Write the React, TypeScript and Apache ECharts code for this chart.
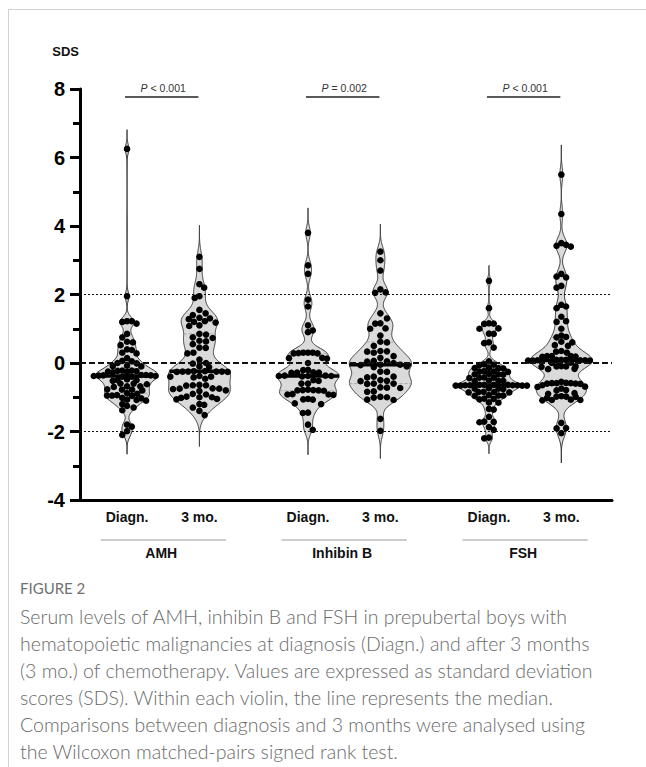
import React, { useEffect, useRef } from "react";
import * as echarts from "echarts";

// ---------------- data ----------------
const groups = ["AMH", "Inhibin B", "FSH"];
const timepoints = ["Diagn.", "3 mo."];
const pValues = ["< 0.001", "= 0.002", "< 0.001"];
const referenceLines = [2, 0, -2];
const yMin = -4;
const yMax = 8;
const yInterval = 2;

const amhDiagnosis = [
  6.25, 1.95, 1.22, 1.2, 1.22, 1.15, 0.85, 0.75, 0.62, 0.6, 0.52, 0.4, 0.38, 0.3, 0.28, 0.14,
  0.06, 0.05, 0.0, -0.01, -0.08, -0.1, -0.09, -0.22, -0.25, -0.26, -0.24, -0.27, -0.22, -0.23,
  -0.35, -0.36, -0.37, -0.38, -0.4, -0.35, -0.38, -0.4, -0.36, -0.5, -0.5, -0.52, -0.48,
  -0.6, -0.62, -0.6, -0.68, -0.7, -0.68, -0.78, -0.78, -0.8, -0.77, -0.88, -0.9,
  -0.95, -0.96, -0.94, -0.95, -1.03, -1.02, -1.08, -1.07, -1.1,
  -1.2, -1.25, -1.3, -1.38, -1.8, -1.86, -1.99, -2.1,
];
const amhThreeMonths = [
  3.1, 2.75, 2.3, 2.2, 1.95, 1.9, 1.55, 1.45, 1.4, 1.3, 1.32, 1.28, 1.2, 1.22, 1.18, 1.1, 1.08,
  0.85, 0.83, 0.75, 0.73, 0.65, 0.63, 0.55, 0.45, 0.44, 0.3, 0.28, 0.1, 0.0, -0.02, -0.1, -0.12,
  -0.24, -0.25, -0.25, -0.26, -0.24, -0.25, -0.26, -0.25,
  -0.4, -0.4, -0.42, -0.38, -0.46, -0.65, -0.64, -0.66, -0.65, -0.75, -0.74, -0.76, -0.75,
  -0.8, -0.82, -0.9, -0.92, -1.0, -1.0, -1.02, -0.98, -1.05, -1.06, -1.2, -1.22, -1.3, -1.4, -1.52,
];
const inhibinDiagnosis = [
  3.8, 2.85, 2.6, 1.85, 1.65, 1.1, 0.95, 0.9, 0.3, 0.3, 0.28, 0.3, 0.29, 0.28,
  0.15, 0.14, 0.13, 0.0, -0.2, -0.21, -0.28, -0.27, -0.28, -0.29,
  -0.38, -0.37, -0.38, -0.39, -0.38, -0.37, -0.5, -0.52, -0.6, -0.6,
  -0.79, -0.8, -0.78, -0.8, -0.79, -0.81, -0.92, -0.92, -0.93, -0.91,
  -1.06, -1.05, -1.07, -1.18, -1.2, -1.45, -1.46, -1.8, -1.95,
];
const inhibinThreeMonths = [
  3.25, 3.0, 2.7, 2.15, 2.05, 2.06, 1.45, 1.3, 1.15, 1.16, 1.0, 1.01, 0.8, 0.62, 0.6, 0.5,
  0.35, 0.34, 0.33, 0.3, 0.2, 0.15, 0.05, 0.04, 0.06, 0.0,
  -0.05, -0.06, -0.05, -0.12, -0.1, -0.25, -0.26, -0.4, -0.42, -0.4, -0.52, -0.53, -0.5,
  -0.6, -0.61, -0.6, -0.72, -0.71, -0.73, -0.83, -0.84, -1.0, -1.01, -0.99, -1.07, -1.08,
  -1.63, -1.98,
];
const fshDiagnosis = [
  2.4, 1.6, 1.15, 1.16, 1.14, 1.0, 1.01, 0.86, 0.85, 0.6, 0.58, 0.45, 0.05, -0.05, -0.04, -0.06,
  -0.15, -0.14, -0.15, -0.16, -0.25, -0.24, -0.26, -0.25, -0.33, -0.34, -0.32, -0.33,
  -0.43, -0.44, -0.42, -0.43, -0.52, -0.53, -0.51, -0.52,
  -0.64, -0.65, -0.66, -0.65, -0.64, -0.66, -0.65, -0.64, -0.66, -0.65, -0.64, -0.66,
  -0.75, -0.76, -0.74, -0.75, -0.85, -0.86, -0.84, -0.85, -0.86, -0.95, -0.96, -0.94, -0.95,
  -1.04, -1.05, -1.06, -1.15, -1.16, -1.34, -1.36,
  -1.57, -1.72, -1.71, -1.73, -1.87, -1.95, -2.18, -2.2,
];
const fshThreeMonths = [
  5.5, 4.35, 3.5, 3.45, 3.4, 3.42, 2.6, 2.5, 2.52, 2.25, 2.2, 1.7, 1.65, 1.6, 1.35, 1.2, 1.22, 1.0,
  0.8, 0.76, 0.75, 0.6, 0.62, 0.5, 0.52, 0.35, 0.33, 0.3, 0.2, 0.19, 0.2, 0.18, 0.2,
  0.08, 0.07, 0.09, 0.08, 0.07, 0.09, 0.08, 0.07, 0.09, 0.0, 0.01,
  -0.1, -0.1, -0.11, -0.09, -0.1, -0.17, -0.18,
  -0.55, -0.59, -0.6, -0.58, -0.59, -0.6, -0.61, -0.59, -0.65, -0.69, -0.7, -0.75, -0.79, -0.8,
  -0.88, -0.9, -0.98, -0.97, -0.99, -0.98, -1.02, -1.08, -1.07, -1.09, -1.08,
  -1.75, -1.9, -1.91, -2.05,
];
const violins = [
  amhDiagnosis, amhThreeMonths,
  inhibinDiagnosis, inhibinThreeMonths,
  fshDiagnosis, fshThreeMonths,
];

const captionTitle = "FIGURE 2";
const captionLines = [
  "Serum levels of AMH, inhibin B and FSH in prepubertal boys with",
  "hematopoietic malignancies at diagnosis (Diagn.) and after 3 months",
  "(3 mo.) of chemotherapy. Values are expressed as standard deviation",
  "scores (SDS). Within each violin, the line represents the median.",
  "Comparisons between diagnosis and 3 months were analysed using",
  "the Wilcoxon matched-pairs signed rank test.",
];

// ---------------- layout ----------------
const GROUP_SPACING = 5;
const SLOT_OFFSETS = [1.3, 3.3];
const X_MAX = 14.7;
const VIOLIN_HALF = 0.86; // x units
const DOT_R = 3.3;
const slotPos = (i: number) => Math.floor(i / 2) * GROUP_SPACING + SLOT_OFFSETS[i % 2];

function describe(vals: number[]) {
  const s = [...vals].sort((a, b) => a - b);
  const n = s.length;
  const q = (p: number) => {
    const idx = (n - 1) * p;
    const lo = Math.floor(idx);
    const hi = Math.ceil(idx);
    return s[lo] + (s[hi] - s[lo]) * (idx - lo);
  };
  const mean = s.reduce((a, b) => a + b, 0) / n;
  const sd = Math.sqrt(s.reduce((a, b) => a + (b - mean) ** 2, 0) / (n - 1));
  const q1 = q(0.25);
  const q3 = q(0.75);
  const h = 0.55 * 0.9 * Math.min(sd, (q3 - q1) / 1.34) * Math.pow(n, -0.2);
  const dens = (y: number) => s.reduce((a, v) => a + Math.exp(-0.5 * ((y - v) / h) ** 2), 0);
  const lo = s[0] - 4 * h;
  const hi = s[n - 1] + 4 * h;
  const N = 320;
  const grid: number[] = [];
  const d: number[] = [];
  let maxD = 0;
  for (let k = 0; k <= N; k++) {
    const y = lo + ((hi - lo) * k) / N;
    const v = dens(y);
    grid.push(y);
    d.push(v);
    if (v > maxD) maxD = v;
  }
  return { s, n, median: q(0.5), q1, q3, grid, d, maxD, dens };
}
const stats = violins.map(describe);

// Lattice swarm: each dot takes the lattice column (0, ±1, ±2, ...) nearest the
// centre that is not already used by a dot less than one diameter above/below it;
// columns are squeezed where the violin is too narrow.
function latticeSwarm(ys: number[], r: number, halfWidthAt: (py: number) => number): number[] {
  const dd = 2 * r;
  const ks: number[] = new Array(ys.length).fill(0);
  const placed: number[] = [];
  const order = ys.map((_, i) => i).sort((a, b) => ys[a] - ys[b]);
  let toggle = 1;
  for (const i of order) {
    const y = ys[i];
    const near = placed.filter((j) => Math.abs(ys[j] - y) < dd * 0.92);
    const used = new Set(near.map((j) => ks[j]));
    let k = 0;
    if (used.has(0)) {
      const balance = near.reduce((a, j) => a + Math.sign(ks[j]), 0);
      const pref = balance > 0 ? -1 : balance < 0 ? 1 : toggle;
      for (let m = 1; m < 200; m++) {
        if (!used.has(pref * m)) { k = pref * m; break; }
        if (!used.has(-pref * m)) { k = -pref * m; break; }
      }
      toggle = -toggle;
    }
    ks[i] = k;
    placed.push(i);
  }
  return ys.map((y, i) => {
    let kmax = 1;
    ys.forEach((y2, j) => {
      if (Math.abs(y2 - y) < dd * 0.92) kmax = Math.max(kmax, Math.abs(ks[j]));
    });
    const w = halfWidthAt(y);
    const s = Math.max(dd * 0.72, Math.min(dd, (w - r * 0.6) / kmax));
    return ks[i] * s;
  });
}

const AXIS_FONT = '"Liberation Sans Narrow", "Liberation Sans", Arial, sans-serif';
const LABEL_FONT = '"Liberation Sans", Arial, sans-serif';

export default function App() {
  const ref = useRef<HTMLDivElement>(null);
  useEffect(() => {
    if (!ref.current) return;
    const chart = echarts.init(ref.current, undefined, { renderer: "svg" });

    const violinSeries = {
      type: "custom",
      z: 3,
      clip: false,
      silent: true,
      data: violins.map((_, i) => [slotPos(i), stats[i].median, i]),
      encode: { x: 0, y: 1 },
      renderItem: (params: any, api: any) => {
        const i = params.dataIndex;
        const st = stats[i];
        const cx = api.coord([slotPos(i), 0])[0];
        const half = api.size([VIOLIN_HALF, 0])[0];
        const left: number[][] = [];
        const right: number[][] = [];
        st.grid.forEach((y, k) => {
          const py = api.coord([0, y])[1];
          const w = (st.d[k] / st.maxD) * half;
          left.push([cx - w, py]);
          right.push([cx + w, py]);
        });
        const pts = left.concat(right.reverse());
        const widthAt = (v: number) => (st.dens(v) / st.maxD) * half;
        const hline = (v: number, style: any) => {
          const py = api.coord([0, v])[1];
          const w = widthAt(v);
          return { type: "line", shape: { x1: cx - w, y1: py, x2: cx + w, y2: py }, style };
        };
        return {
          type: "group",
          children: [
            {
              type: "polygon",
              shape: { points: pts },
              style: { fill: "#dadada", stroke: "#3a3a3a", lineWidth: 1 },
            },
            hline(st.q1, { stroke: "#a8a8a8", lineWidth: 1, lineDash: [3, 2] }),
            hline(st.q3, { stroke: "#a8a8a8", lineWidth: 1, lineDash: [3, 2] }),
          ],
        };
      },
    };

    const dotSeries = {
      type: "custom",
      z: 4,
      clip: false,
      silent: true,
      data: violins.map((_, i) => [slotPos(i), stats[i].median, i]),
      encode: { x: 0, y: 1 },
      renderItem: (params: any, api: any) => {
        const i = params.dataIndex;
        const vals = violins[i];
        const st = stats[i];
        const cx = api.coord([slotPos(i), 0])[0];
        const half = api.size([VIOLIN_HALF, 0])[0];
        const y0 = api.coord([0, 0])[1];
        const pxPerUnit = api.size([0, 1])[1];
        const halfWidthAt = (py: number) => (st.dens((y0 - py) / pxPerUnit) / st.maxD) * half;
        const ys = vals.map((v) => api.coord([0, v])[1]);
        const dxs = latticeSwarm(ys, DOT_R, halfWidthAt);
        const mw = (st.dens(st.median) / st.maxD) * half;
        const my = api.coord([0, st.median])[1];
        return {
          type: "group",
          children: [
            ...ys.map((py, k) => ({
              type: "circle",
              shape: { cx: cx + dxs[k], cy: py, r: DOT_R },
              style: { fill: "#000" },
            })),
            {
              type: "line",
              shape: { x1: cx - mw, y1: my, x2: cx + mw, y2: my },
              style: { stroke: "#000", lineWidth: 3.5 },
            },
          ],
        };
      },
    };

    const annotationSeries = {
      type: "custom",
      z: 5,
      clip: false,
      silent: true,
      data: groups.map((_, g) => [slotPos(g * 2), yMin, g]),
      encode: { x: 0, y: 1 },
      renderItem: (params: any, api: any) => {
        const g = params.dataIndex;
        const x0 = slotPos(g * 2);
        const x1 = slotPos(g * 2 + 1);
        const mid = (x0 + x1) / 2;
        const base = api.coord([mid, yMin]);
        const top = api.coord([mid, yMax]);
        const p0 = api.coord([x0, yMax])[0];
        const p1 = api.coord([x1, yMax])[0];
        const lineHalf = api.size([1.73, 0])[0];
        const children: any[] = [];
        timepoints.forEach((t, j) => {
          const px = api.coord([slotPos(g * 2 + j), yMin])[0];
          children.push({
            type: "text",
            style: {
              text: t, x: px, y: base[1] + 17, align: "center", verticalAlign: "middle",
              font: `bold 14px ${LABEL_FONT}`, fill: "#111",
            },
          });
        });
        children.push({
          type: "line",
          shape: { x1: base[0] - lineHalf, y1: base[1] + 40, x2: base[0] + lineHalf, y2: base[1] + 40 },
          style: { stroke: "#9a9a9a", lineWidth: 1.2 },
        });
        children.push({
          type: "text",
          style: {
            text: groups[g], x: base[0] - 2, y: base[1] + 53, align: "center", verticalAlign: "middle",
            font: `bold 14px ${LABEL_FONT}`, fill: "#111",
          },
        });
        children.push({
          type: "line",
          shape: { x1: p0 - 2, y1: top[1] + 8, x2: p1 - 1, y2: top[1] + 8 },
          style: { stroke: "#222", lineWidth: 1.3 },
        });
        children.push({
          type: "text",
          style: {
            text: `{i|P} ${pValues[g]}`, x: (p0 + p1) / 2, y: top[1] - 1, align: "center", verticalAlign: "middle",
            fontSize: 10.5, fontFamily: LABEL_FONT, fill: "#333",
            rich: { i: { fontStyle: "italic", fontSize: 10.5, fontFamily: LABEL_FONT, fill: "#333" } },
          },
        });
        return { type: "group", children };
      },
    };

    const refSeries = {
      type: "line",
      z: 1,
      silent: true,
      data: [],
      markLine: {
        silent: true,
        symbol: "none",
        label: { show: false },
        animation: false,
        data: referenceLines.map((v) => ({
          yAxis: v,
          lineStyle: v === 0
            ? { color: "#111", width: 2, type: [6, 3] }
            : { color: "#111", width: 1, type: [2, 2] },
        })),
      },
    };

    chart.setOption({
      animation: false,
      grid: { left: 80, right: 34, top: 89, bottom: 267 },
      xAxis: {
        type: "value",
        min: 0,
        max: X_MAX,
        axisLine: { show: true, onZero: false, lineStyle: { color: "#000", width: 3 } },
        axisTick: { show: false },
        axisLabel: { show: false },
        splitLine: { show: false },
      },
      yAxis: {
        type: "value",
        min: yMin,
        max: yMax,
        interval: yInterval,
        name: "SDS",
        nameLocation: "end",
        nameGap: 38,
        nameTextStyle: {
          fontFamily: LABEL_FONT, fontWeight: "bold", fontSize: 13, color: "#111",
          align: "right", verticalAlign: "middle", padding: [0, 1, 0, 0],
        },
        axisLine: { show: true, lineStyle: { color: "#000", width: 3 } },
        axisTick: { show: true, length: 10, lineStyle: { color: "#000", width: 3 } },
        minorTick: { show: true, splitNumber: 2, length: 7, lineStyle: { color: "#000", width: 3 } },
        axisLabel: {
          fontFamily: AXIS_FONT, fontWeight: "bold", fontSize: 20, color: "#000", margin: 15,
        },
        splitLine: { show: false },
        minorSplitLine: { show: false },
      },
      graphic: [
        { type: "line", shape: { x1: 8, y1: 9.5, x2: 646, y2: 9.5 }, style: { stroke: "#d2d2d2", lineWidth: 1 } },
        { type: "line", shape: { x1: 8.5, y1: 9, x2: 8.5, y2: 767 }, style: { stroke: "#d2d2d2", lineWidth: 1 } },
        {
          type: "text", x: 20, y: 588,
          style: { text: captionTitle, font: '15px Lato, "Open Sans", sans-serif', fill: "#707070", verticalAlign: "middle" },
        },
        ...captionLines.map((t, k) => ({
          type: "text", x: 20, y: 616 + k * 27,
          style: { text: t, font: '300 19.5px Lato, "Open Sans", sans-serif', fill: "#6a6a6a", verticalAlign: "middle" },
        })),
      ],
      series: [refSeries, violinSeries, dotSeries, annotationSeries],
    });
    return () => chart.dispose();
  }, []);
  return (
    <div
      ref={ref}
      style={{ position: "fixed", left: 0, top: 0, width: 646, height: 767, background: "#fff" }}
    />
  );
}
